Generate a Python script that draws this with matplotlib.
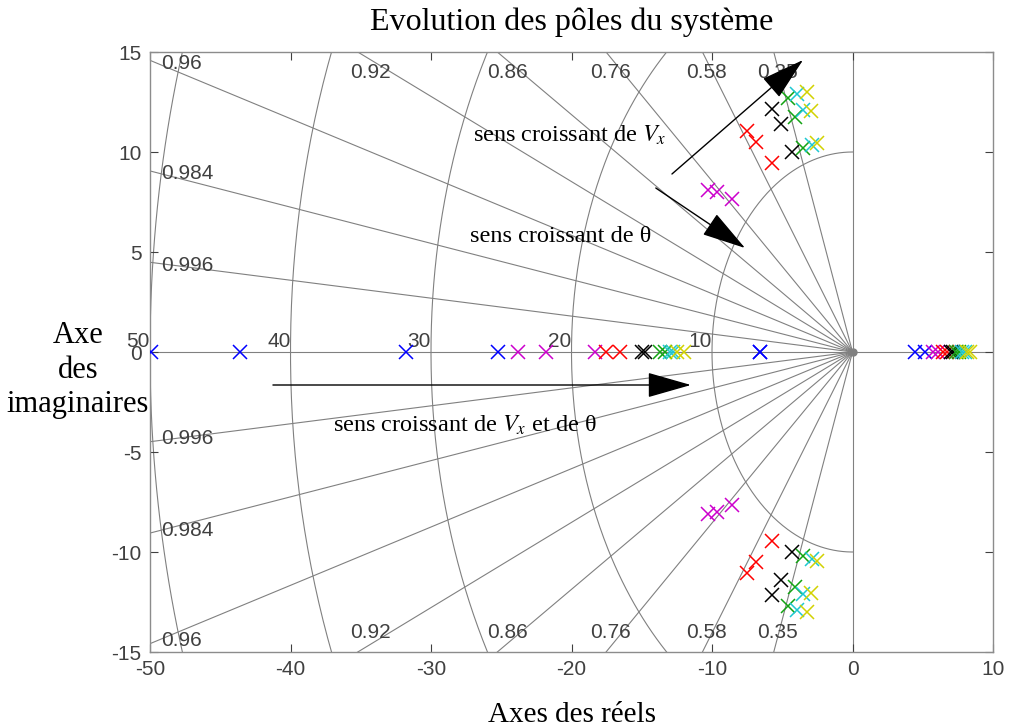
import numpy as np
import matplotlib
matplotlib.use("Agg")
import matplotlib.pyplot as plt

plt.rcParams['axes.unicode_minus'] = False
plt.rcParams['mathtext.fontset'] = 'stix'

# ---------------- data ----------------
series_colors = ['#0000ff', '#cc00cc', '#ff0000', '#000000', '#12a312', '#1ec8d2', '#d2d200']

# negative real poles per series
neg_real = [
    [-49.9, -43.6, -31.8, -25.2, -6.6, -6.55],
    [-23.8, -21.8, -18.3],
    [-17.57, -16.55],
    [-15.0, -14.75],
    [-13.7, -13.35],
    [-13.0, -12.75],
    [-12.5, -12.0],
]
# positive real poles per series
pos_real = [
    [4.45, 5.16],
    [5.75, 6.1],
    [6.46, 6.7],
    [6.99, 7.17],
    [7.4, 7.6],
    [7.77, 8.0],
    [8.13, 8.36],
]
# complex poles (upper half, conjugates mirrored)
cplx_re = [
    [],
    [-10.26, -9.67, -8.55],
    [-7.49, -6.87, -5.75],
    [-5.7, -5.1, -4.28],
    [-4.57, -4.09, -3.5],
    [-3.97, -3.5, -2.9],
    [-3.26, -2.98, -2.5],
]
cplx_im = [
    [],
    [8.1, 8.02, 7.65],
    [11.05, 10.5, 9.43],
    [12.13, 11.38, 10.0],
    [12.68, 11.73, 10.18],
    [12.9, 12.1, 10.35],
    [13.0, 12.07, 10.43],
]

zetas = [0.35, 0.58, 0.76, 0.86, 0.92, 0.96, 0.984, 0.996]
zeta_top = ['0.92', '0.86', '0.76', '0.58', '0.35']
zeta_left = ['0.96', '0.984', '0.996']
wns = [10, 20, 30, 40, 50]
xticks = [-50, -40, -30, -20, -10, 0, 10]
yticks = [-15, -10, -5, 0, 5, 10, 15]

# ---------------- figure ----------------
fig = plt.figure(figsize=(10.09, 7.26), dpi=100)
ax = fig.add_axes([150/1009, 74/726, 843/1009, 600/726])
xmin, xmax, ymin, ymax = -50, 10, -15, 15
ax.set_xlim(xmin, xmax)
ax.set_ylim(ymin, ymax)

gcol = '#808080'
tcol = '#404040'
glw = 0.8

# damping lines
for z in zetas:
    r = 200
    for sg in (1, -1):
        ax.plot([0, -r * z], [0, sg * r * np.sqrt(1 - z**2)], color=gcol, lw=glw, zorder=1)
# axes lines
ax.axhline(0, color=gcol, lw=glw, zorder=1)
ax.axvline(0, color=gcol, lw=glw, zorder=1)
# natural frequency circles
th = np.linspace(np.pi / 2, 3 * np.pi / 2, 400)
for w in wns:
    ax.plot(w * np.cos(th), w * np.sin(th), color=gcol, lw=glw, zorder=1)
    ax.text(-w, 0.25, str(w), ha='right', va='baseline', fontsize=15,
            color=tcol, family='Liberation Sans', clip_on=False)
ax.plot([0], [0], 'o', color=gcol, ms=5, zorder=2)

# damping labels
for lab in zeta_top:
    z = float(lab)
    s = np.sqrt(1 - z**2) / z
    xt = -15 / s
    off = 0.9 if z > 0.9 else (0.7 if z > 0.8 else 0.3)
    for sg in (1, -1):
        ax.text(xt + off, sg * 14.0, lab, ha='center', va='center', fontsize=15,
                color=tcol, family='Liberation Sans')
for lab in zeta_left:
    z = float(lab)
    s = np.sqrt(1 - z**2) / z
    yl = 50 * s
    for sg in (1, -1):
        ax.text(-49.2, sg * (yl - 0.15), lab, ha='left', va='center', fontsize=15,
                color=tcol, family='Liberation Sans')

# poles
for i, c in enumerate(series_colors):
    xs = list(neg_real[i]) + list(pos_real[i])
    ys = [0] * len(xs)
    ax.plot(xs, ys, 'x', color=c, ms=9.5, mew=1.1, zorder=5)
    if cplx_re[i]:
        ax.plot(cplx_re[i], cplx_im[i], 'x', color=c, ms=9.5, mew=1.1, zorder=5)
        ax.plot(cplx_re[i], [-v for v in cplx_im[i]], 'x', color=c, ms=9.5, mew=1.1, zorder=5)

# arrows
aprops = dict(arrowstyle='-|>,head_length=1.4,head_width=0.4', color='k', lw=1.0,
              mutation_scale=20, shrinkA=0, shrinkB=0)
ax.annotate('', xy=(-3.52, 14.6), xytext=(-12.85, 8.9), arrowprops=aprops, zorder=6)
ax.annotate('', xy=(-7.65, 5.2), xytext=(-14.0, 8.2), arrowprops=aprops, zorder=6)
ax.annotate('', xy=(-11.5, -1.65), xytext=(-41.25, -1.65), arrowprops=aprops, zorder=6)

sfont = 'Liberation Serif'
ax.text(-20.1, 10.85, r'sens croissant de $V_x$', ha='center', va='center',
        fontsize=17.5, family=sfont)
ax.text(-20.8, 5.8, 'sens croissant de θ', ha='center', va='center',
        fontsize=17.5, family=sfont)
ax.text(-27.6, -3.65, r'sens croissant de $V_x$ et de θ', ha='center', va='center',
        fontsize=17.5, family=sfont)

# ticks and frame
ax.set_xticks(xticks)
ax.set_yticks(yticks)
ax.tick_params(direction='in', top=True, right=True, length=6, width=0.8,
               colors=tcol, labelsize=15, pad=6)
for lab in ax.get_xticklabels() + ax.get_yticklabels():
    lab.set_family('Liberation Sans')
for sp in ax.spines.values():
    sp.set_color('#8c8c8c')
    sp.set_linewidth(1.0)

ax.set_title('Evolution des pôles du système', family=sfont, fontsize=23, pad=16)
ax.set_xlabel('Axes des réels', family=sfont, fontsize=21, labelpad=16)
fig.text(78/1009, 1 - 370/726, 'Axe\ndes\nimaginaires', ha='center', va='center',
         family=sfont, fontsize=22, linespacing=1.25)

fig.savefig('out.png', dpi=100)
